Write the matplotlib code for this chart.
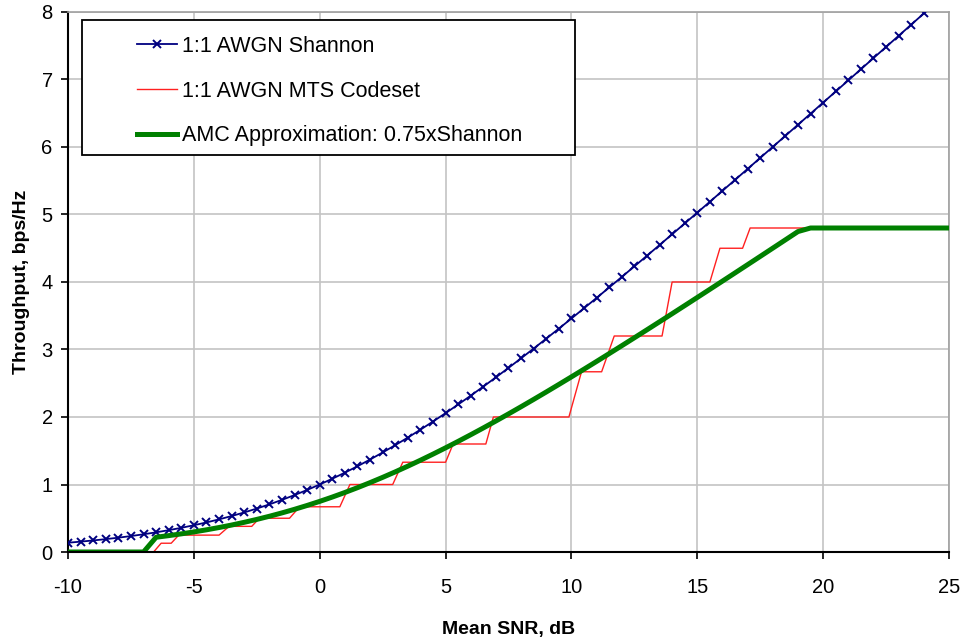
import matplotlib.pyplot as plt
from matplotlib.patches import Rectangle
from matplotlib.lines import Line2D

plt.rcParams['font.family'] = ['Liberation Sans', 'DejaVu Sans']
plt.rcParams['axes.unicode_minus'] = False

# 1:1 AWGN Shannon, one point every 0.5 dB from -10 to 25
snr = [-10 + 0.5 * i for i in range(71)]
shannon = [0.1375, 0.1534, 0.1711, 0.1906, 0.2122, 0.2361, 0.2624, 0.2915, 0.3233, 0.3582,
           0.3964, 0.4381, 0.4835, 0.5327, 0.5861, 0.6437, 0.7057, 0.7722, 0.8434, 0.9194,
           1.0000, 1.0855, 1.1756, 1.2705, 1.3701, 1.4742, 1.5827, 1.6954, 1.8122, 1.9330,
           2.0574, 2.1853, 2.3165, 2.4507, 2.5878, 2.7276, 2.8698, 3.0142, 3.1608, 3.3093,
           3.4594, 3.6112, 3.7644, 3.9189, 4.0746, 4.2313, 4.3891, 4.5476, 4.7070, 4.8671,
           5.0278, 5.1891, 5.3509, 5.5131, 5.6758, 5.8388, 6.0022, 6.1658, 6.3297, 6.4939,
           6.6582, 6.8227, 6.9874, 7.1523, 7.3173, 7.4825, 7.6477, 7.8131, 7.9786, 8.1440,
           8.3100]

# AMC approximation, same SNR grid
amc = [0, 0, 0, 0, 0, 0, 0, 0.2186, 0.2425, 0.2687,
       0.2973, 0.3286, 0.3626, 0.3995, 0.4396, 0.4828, 0.5293, 0.5792, 0.6326, 0.6896,
       0.7500, 0.8141, 0.8817, 0.9529, 1.0276, 1.1057, 1.1870, 1.2716, 1.3592, 1.4498,
       1.5431, 1.6390, 1.7374, 1.8380, 1.9409, 2.0457, 2.1524, 2.2607, 2.3706, 2.4820,
       2.5946, 2.7084, 2.8233, 2.9392, 3.0560, 3.1735, 3.2918, 3.4107, 3.5303, 3.6503,
       3.7709, 3.8918, 4.0132, 4.1348, 4.2569, 4.3791, 4.5017, 4.6244, 4.7473, 4.8,
       4.8, 4.8, 4.8, 4.8, 4.8, 4.8, 4.8, 4.8, 4.8, 4.8,
       4.8]

# MTS codeset staircase (corner points)
mts_snr = [-10, -6.6, -6.3, -5.9, -5.6, -4.0, -3.6, -2.7, -2.4, -1.2, -0.8, 0.8, 1.2, 2.9, 3.3,
           5.0, 5.3, 6.6, 6.9, 9.9, 10.4, 11.2, 11.7, 13.6, 14.0, 15.5, 15.9, 16.8, 17.1, 25]
mts_tput = [0, 0, 0.13, 0.13, 0.25, 0.25, 0.38, 0.38, 0.5, 0.5, 0.67, 0.67, 1.0, 1.0, 1.33,
            1.33, 1.6, 1.6, 2.0, 2.0, 2.67, 2.67, 3.2, 3.2, 4.0, 4.0, 4.5, 4.5, 4.8, 4.8]

labels = ['1:1 AWGN Shannon', '1:1 AWGN MTS Codeset', 'AMC Approximation: 0.75xShannon']

fig = plt.figure(figsize=(9.66, 6.43), dpi=100)
ax = fig.add_axes([68 / 966, 1 - 552 / 643, 881 / 966, 540 / 643])

ax.plot(snr, shannon, color='#000080', lw=1.3, marker='x', ms=6, mew=1.4, zorder=3)
ax.plot(mts_snr, mts_tput, color='#ff2020', lw=1.0, zorder=4)
ax.plot(snr, amc, color='#008000', lw=3.6, zorder=5, solid_capstyle='butt')

ax.set_xlim(-10, 25)
ax.set_ylim(0, 8)
ax.set_xticks(range(-10, 26, 5))
ax.set_yticks(range(0, 9))
ax.grid(True, color='#c4c4c4', lw=1.2)
ax.set_axisbelow(True)

for s in ['top', 'right']:
    ax.spines[s].set_color('#a0a0a0')
    ax.spines[s].set_linewidth(1.2)
for s in ['left', 'bottom']:
    ax.spines[s].set_color('black')
    ax.spines[s].set_linewidth(1.5)
ax.spines['bottom'].set_zorder(6)

ax.tick_params(axis='both', direction='out', length=5, width=1.2, labelsize=14.5, pad=6)
ax.tick_params(axis='x', pad=14)

ax.set_xlabel('Mean SNR, dB', fontsize=14, fontweight='bold', labelpad=17)
ax.set_ylabel('Throughput, bps/Hz', fontsize=14, fontweight='bold', labelpad=8)

# legend box
ax.add_patch(Rectangle((14 / 881, (552 - 155) / 540), 493 / 881, 135 / 540,
                       transform=ax.transAxes, facecolor='white', edgecolor='black',
                       lw=1.3, zorder=7))
handles = [
    Line2D([0, 0.5, 1], [0, 0, 0], color='#000080', lw=1.3, marker='x', ms=6, mew=1.4,
           markevery=[1]),
    Line2D([], [], color='#ff2020', lw=1.0),
    Line2D([], [], color='#008000', lw=3.6),
]
leg = ax.legend(handles, labels, loc='upper left', bbox_to_anchor=(69 / 881, (552 - 36) / 540),
                frameon=False, fontsize=15.5, handlelength=1.85, handletextpad=0.23,
                labelspacing=1.1, borderaxespad=0, borderpad=0)
leg.set_zorder(8)

fig.savefig('out.png', dpi=100)
